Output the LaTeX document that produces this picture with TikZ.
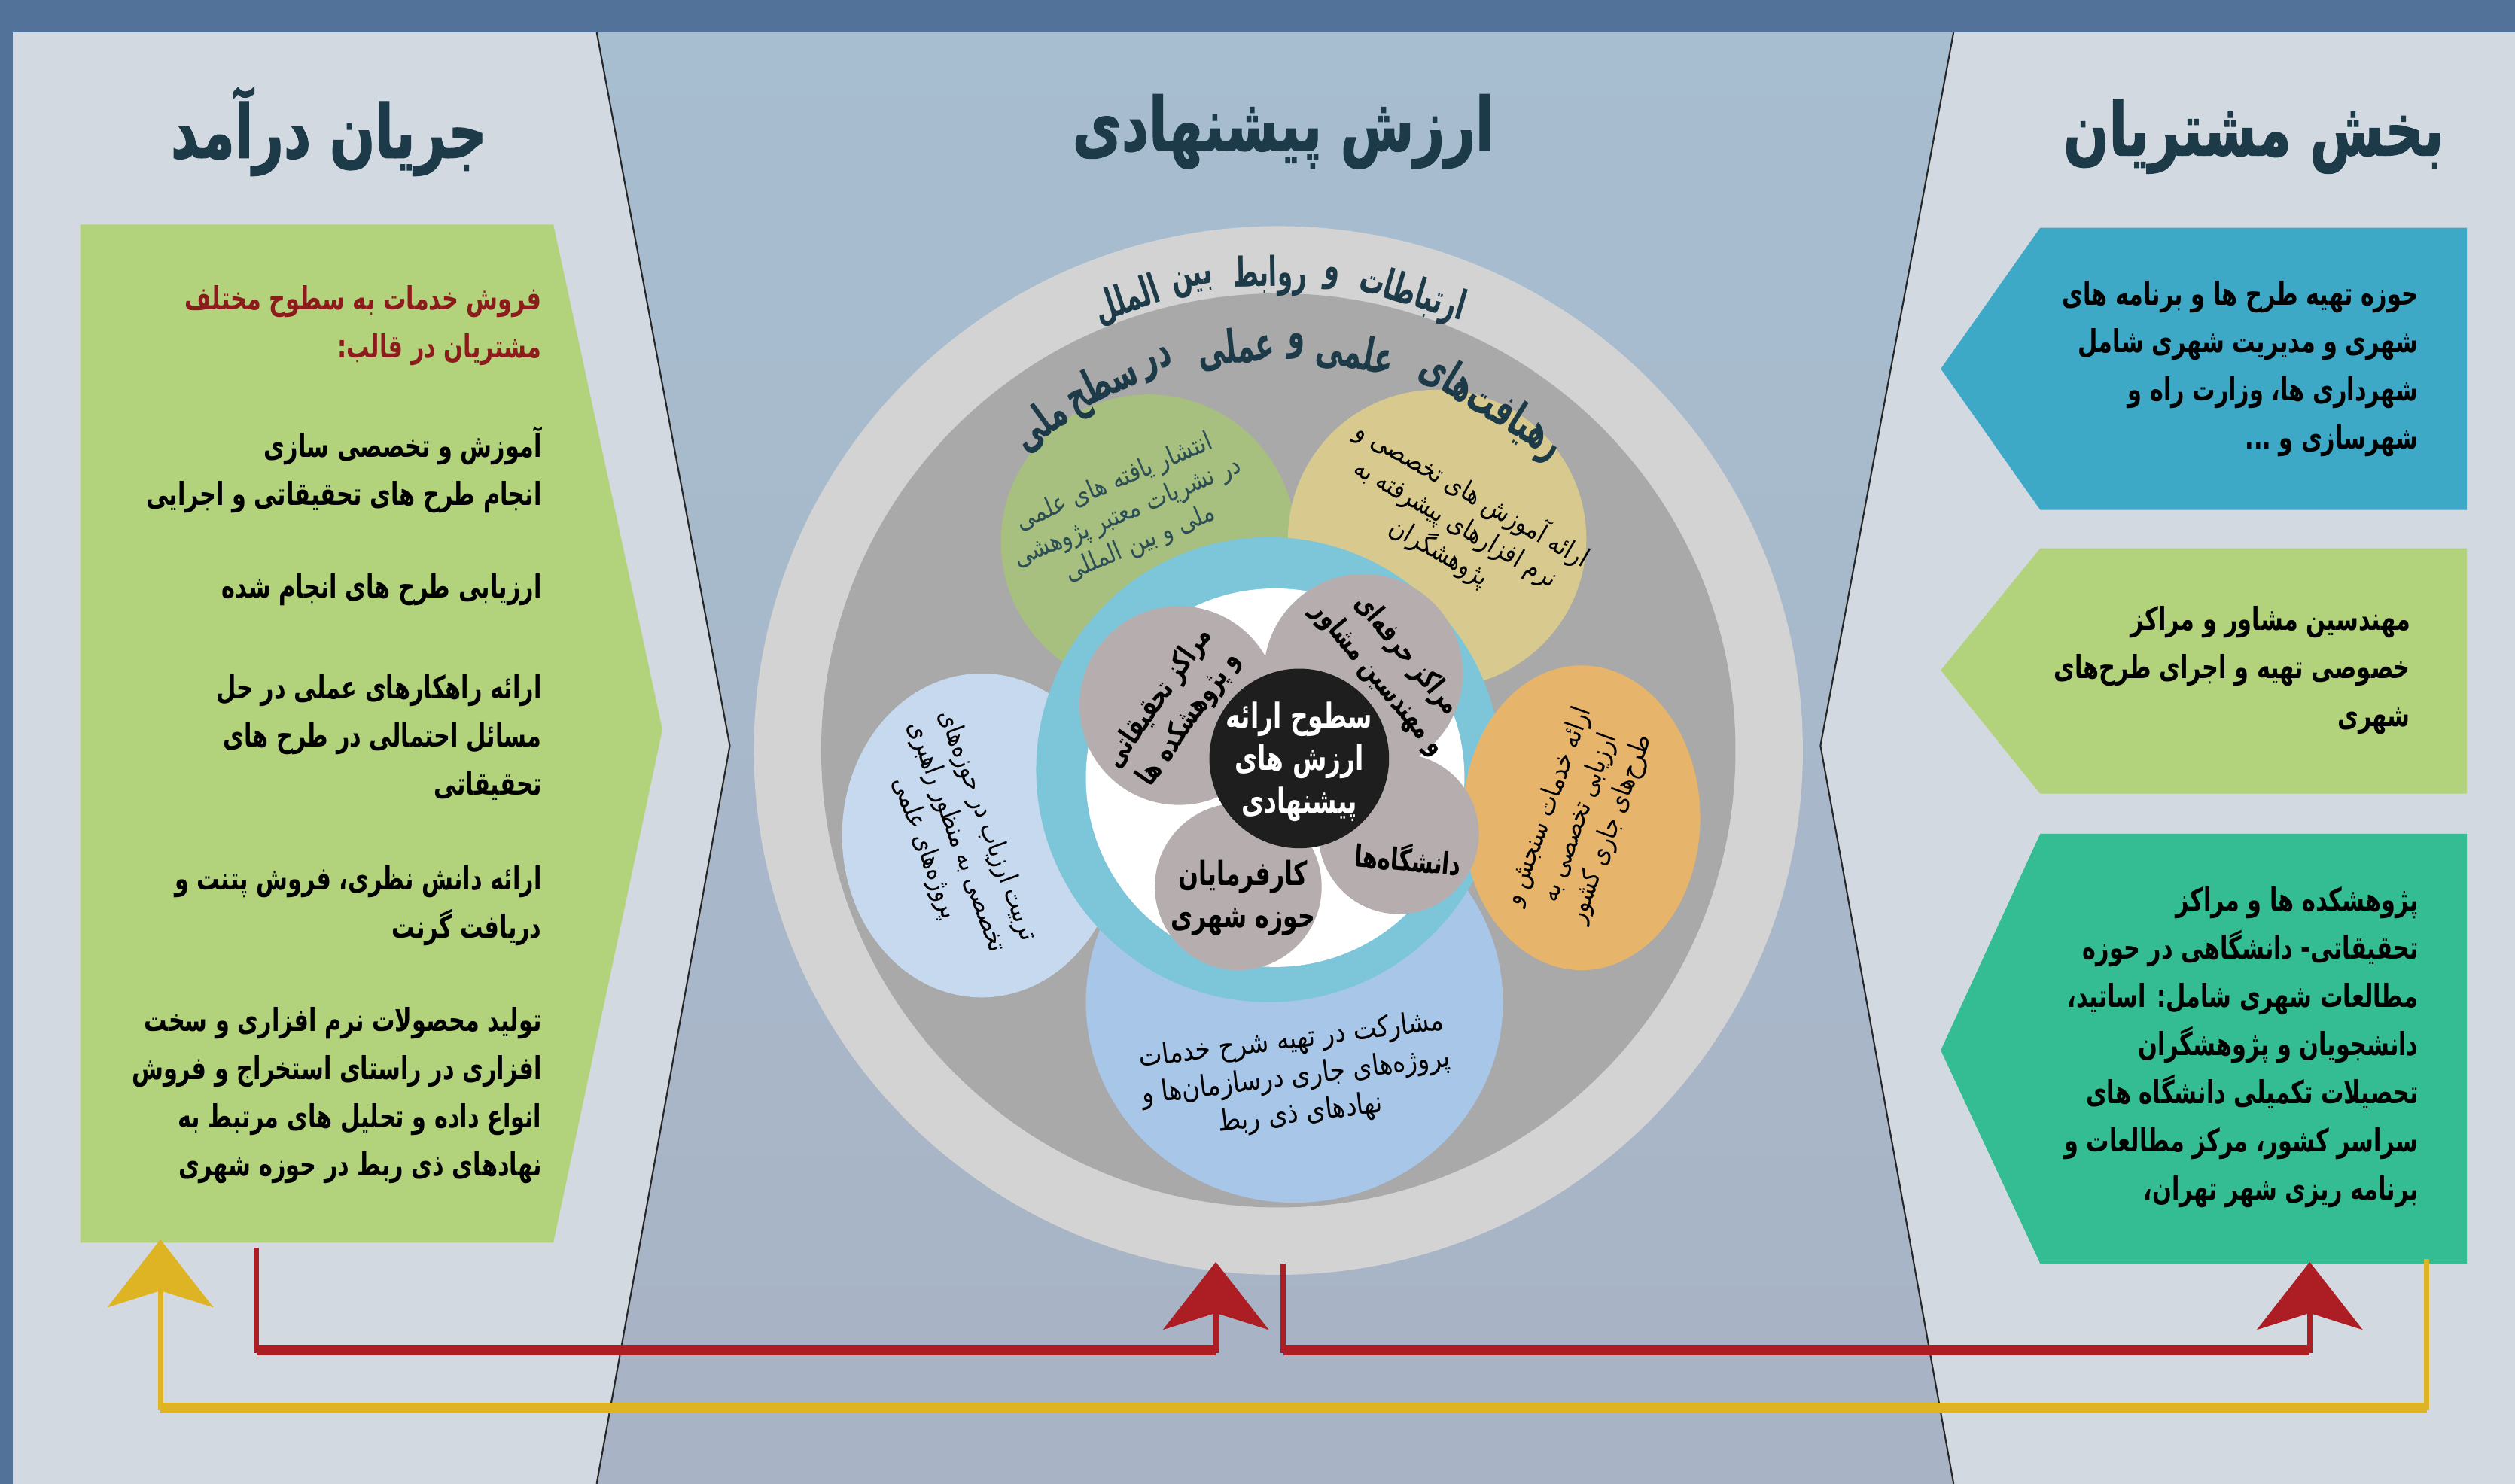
\documentclass[tikz,border=0pt]{standalone}
\usepackage{fontspec}
\newfontfamily\fan[Script=Arabic,FakeStretch=0.72]{DejaVu Sans}
\newfontfamily\famid[Script=Arabic,FakeStretch=0.85]{DejaVu Sans}
\newfontfamily\faarc[Script=Arabic,FakeStretch=0.6]{DejaVu Sans}
\newfontfamily\fahvy[Script=Arabic,FakeStretch=0.72,BoldFeatures={FakeBold=1.3}]{DejaVu Sans}
\TeXXeTstate=1
\usetikzlibrary{arrows.meta}
\newcommand{\rl}[1]{\beginR #1\endR}

\definecolor{framebg}{HTML}{52729A}
\definecolor{panelgrey}{HTML}{D3D9E0}
\definecolor{midtop}{HTML}{A7BED0}
\definecolor{midbot}{HTML}{A8B3C5}
\definecolor{ttlink}{HTML}{1C3A48}
\definecolor{revgreen}{HTML}{B2D27C}
\definecolor{revred}{HTML}{8C1C1C}
\definecolor{segblue}{HTML}{3EA9C7}
\definecolor{seggreen}{HTML}{B2D27C}
\definecolor{segteal}{HTML}{34BD92}
\definecolor{ringlight}{HTML}{D3D3D3}
\definecolor{ringgrey}{HTML}{A9A9A9}
\definecolor{satgreen}{HTML}{A7BF7F}
\definecolor{satkhaki}{HTML}{D8CA8F}
\definecolor{satblueL}{HTML}{C6D9EF}
\definecolor{satblueB}{HTML}{A8C6E8}
\definecolor{satorange}{HTML}{E6B56B}
\definecolor{cyanring}{HTML}{7DC6DA}
\definecolor{petal}{HTML}{B6AEAE}
\definecolor{core}{HTML}{1E1E1E}
\definecolor{arrred}{HTML}{AD1E24}
\definecolor{arryel}{HTML}{DFB424}
\definecolor{sattext}{HTML}{2C4F55}

\tikzset{
  ttl/.style={font=\fahvy\bfseries\fontsize{28}{30}\selectfont, text=ttlink, inner sep=0pt},
  body/.style={font=\fan\bfseries\fontsize{12}{18.2}\selectfont, align=right, anchor=east, inner sep=0pt},
  arcword/.style={font=\faarc\bfseries\fontsize{15.5}{17}\selectfont, text=ttlink, inner sep=0pt},
  arcwordbig/.style={arcword, font=\faarc\bfseries\fontsize{17.5}{20}\selectfont},
  sat/.style={font=\famid\fontsize{10}{12.5}\selectfont, align=center, inner sep=0pt},
  flower/.style={font=\fan\bfseries\fontsize{11}{14}\selectfont, align=center, inner sep=0pt},
  sepline/.style={line width=0.6pt, black!85},
  redthin/.style={arrred, line width=2pt},
  redbar/.style={arrred, line width=4pt},
  yelthin/.style={arryel, line width=2pt},
  yelbar/.style={arryel, line width=4pt},
  bigtip/.style={-{Stealth[length=9mm, width=14mm, inset=2.2mm]}}
}

\begin{document}
\begin{tikzpicture}[x=0.2131mm, y=-0.2131mm]
\useasboundingbox (0,0) rectangle (1568,925.4);

% backdrop and the three columns
\fill[framebg] (0,0) rectangle (1568,925.4);
\fill[panelgrey] (8,20) rectangle (1568,925.4);
\shade[top color=midtop, bottom color=midbot] (372,20) -- (455,465) -- (372,925.4)
  -- (1218,925.4) -- (1135,465) -- (1218,20) -- cycle;
\draw[sepline] (372,20) -- (455,465) -- (372,925.4);
\draw[sepline] (1218,20) -- (1135,465) -- (1218,925.4);

% titles
\node[ttl] (ttlrev) at (205,82) {\rl{جریان درآمد}};
\node[ttl] (ttlval) at (800,82) {\rl{ارزش پیشنهادی}};
\node[ttl] (ttlseg) at (1405,85) {\rl{بخش مشتریان}};

% revenue streams
\fill[revgreen] (50,140) -- (345,140) -- (413,455) -- (345,775) -- (50,775) -- cycle;
\node[body, text=revred] (revhead) at (338,203) {\rl{فروش خدمات به سطوح مختلف}\\\rl{مشتریان در قالب:}};
\node[body] (rev1) at (338,293) {\rl{آموزش و تخصصی سازی}\\\rl{انجام طرح های تحقیقاتی و اجرایی}};
\node[body] (rev2) at (338,368) {\rl{ارزیابی طرح های انجام شده}};
\node[body] (rev3) at (338,460) {\rl{ارائه راهکارهای عملی در حل}\\\rl{مسائل احتمالی در طرح های}\\\rl{تحقیقاتی}};
\node[body] (rev4) at (338,565) {\rl{ارائه دانش نظری، فروش پتنت و}\\\rl{دریافت گرنت}};
\node[body] (rev5) at (338,683) {\rl{تولید محصولات نرم افزاری و سخت}\\\rl{افزاری  در راستای استخراج و فروش}\\\rl{انواع داده و تحلیل های مرتبط به}\\\rl{نهادهای ذی ربط در حوزه شهری}};

% customer segments
\fill[segblue] (1538,142) -- (1272,142) -- (1210,230) -- (1272,318) -- (1538,318) -- cycle;
\fill[seggreen] (1538,342) -- (1272,342) -- (1210,418) -- (1272,495) -- (1538,495) -- cycle;
\fill[segteal] (1538,520) -- (1272,520) -- (1210,655) -- (1272,788) -- (1538,788) -- cycle;
\node[body] (seg1) at (1508,230) {\rl{حوزه تهیه طرح ها و برنامه های}\\\rl{شهری و مدیریت شهری شامل}\\\rl{شهرداری ها، وزارت راه و}\\\rl{شهرسازی و ...}};
\node[body] (seg2) at (1503,418) {\rl{مهندسین مشاور و مراکز}\\\rl{خصوصی تهیه و اجرای طرح‌های}\\\rl{شهری}};
\node[body] (seg3) at (1508,653) {\rl{پژوهشکده ها و مراکز}\\\rl{تحقیقاتی- دانشگاهی در حوزه}\\\rl{مطالعات شهری شامل: اساتید،}\\\rl{دانشجویان و پژوهشگران}\\\rl{تحصیلات تکمیلی دانشگاه های}\\\rl{سراسر کشور، مرکز مطالعات و}\\\rl{برنامه ریزی شهر تهران،}};

% value proposition rings
\coordinate (ctr) at (797,468);
\fill[ringlight] (ctr) circle[radius=327];
\fill[ringgrey] (ctr) circle[radius=285];

% satellites
\fill[satgreen] (716,338) circle[radius=92];
\fill[satkhaki] (896,336) circle[radius=93];
\fill[satblueL] (612,521) ellipse[x radius=87, y radius=101];
\fill[satblueB] (807,625) ellipse[x radius=130, y radius=125];
\fill[cyanring] (791,480) circle[radius=145];
\fill[white] (795,485) circle[radius=118];
\fill[satorange] (986,510) ellipse[x radius=74, y radius=95];
\node[sat, text=sattext, rotate=23] (pubs) at (703,320) {\rl{انتشار یافته های علمی}\\\rl{در نشریات معتبر پژوهشی}\\\rl{ملی و بین المللی}};
\node[sat, rotate=-30] (train) at (908,326) {\rl{ارائه آموزش های تخصصی و}\\\rl{نرم افزارهای پیشرفته به}\\\rl{پژوهشگران}};
\node[sat, rotate=-70] (assess) at (596,522) {\rl{تربیت ارزیاب در حوزه‌های}\\\rl{تخصصی به منظور راهبری}\\\rl{پروژه‌های علمی}};
\node[sat, rotate=70] (review) at (985,510) {\rl{ارائه خدمات سنجش و}\\\rl{ارزیابی تخصصی به}\\\rl{طرح‌های جاری کشور}};
\node[sat, font=\famid\fontsize{11}{14}\selectfont, rotate=7] (tender) at (808,672) {\rl{مشارکت در تهیه شرح خدمات}\\\rl{پروژه‌های جاری درسازمان‌ها و}\\\rl{نهادهای ذی ربط}};

% ring captions, word by word along the arcs
\foreach \w/\a [count=\i] in {ارتباطات/73.6, و/83.6, روابط/91, بین/100.4, الملل/108.6}
  \path (ctr) ++(-\a:296) node[arcword, rotate=\a-90] (intl\i) {\rl{\w}};
\foreach \w/\a [count=\i] in {رهیافت‌های/58.2, علمی/79, و/87.5, عملی/96, در/107.3, سطح/115.8, ملی/126.2}
  \path (ctr) ++(-\a:252) node[arcwordbig, rotate=\a-90] (natl\i) {\rl{\w}};

% flower of value levels
\fill[petal] (735,440) circle[radius=62] (850,420) circle[radius=62]
  (872,520) circle[radius=50] (772,553) circle[radius=52];
\fill[core] (810,473) circle[radius=56];
\node[flower, text=white, font=\fan\bfseries\fontsize{13}{16}\selectfont] (levels) at (810,475) {\rl{سطوح ارائه}\\\rl{ارزش های}\\\rl{پیشنهادی}};
\node[flower, rotate=55] (lab) at (732,442) {\rl{مراکز تحقیقاتی}\\\rl{و پژوهشکده ها}};
\node[flower, rotate=-50] (consult) at (868,416) {\rl{مراکز حرفه‌ای}\\\rl{و مهندسین مشاور}};
\node[flower, rotate=-5, font=\fan\bfseries\fontsize{11.5}{14}\selectfont] (unis) at (878,535) {\rl{دانشگاه‌ها}};
\node[flower, font=\fan\bfseries\fontsize{12.5}{16}\selectfont] (employers) at (775,560) {\rl{کارفرمایان}\\\rl{حوزه شهری}};

% flows
\coordinate (revout) at (160,778);
\coordinate (valin) at (758,787);
\coordinate (valout) at (800,788);
\coordinate (segin) at (1440,787);
\coordinate (segout) at (1513,785);
\coordinate (revin) at (100,773);
\coordinate (redrow) at (0,842);
\coordinate (yelrow) at (0,878);
\draw[yelthin, bigtip] (segout) -- (segout |- yelrow) -- (revin |- yelrow) -- (revin);
\draw[yelbar] (segout |- yelrow) -- (revin |- yelrow);
\draw[redthin, bigtip] (revout) -- (revout |- redrow) -| (valin);
\draw[redbar] (revout |- redrow) -- (valin |- redrow);
\draw[redthin, bigtip] (valout) -- (valout |- redrow) -| (segin);
\draw[redbar] (valout |- redrow) -- (segin |- redrow);
\end{tikzpicture}
\end{document}
